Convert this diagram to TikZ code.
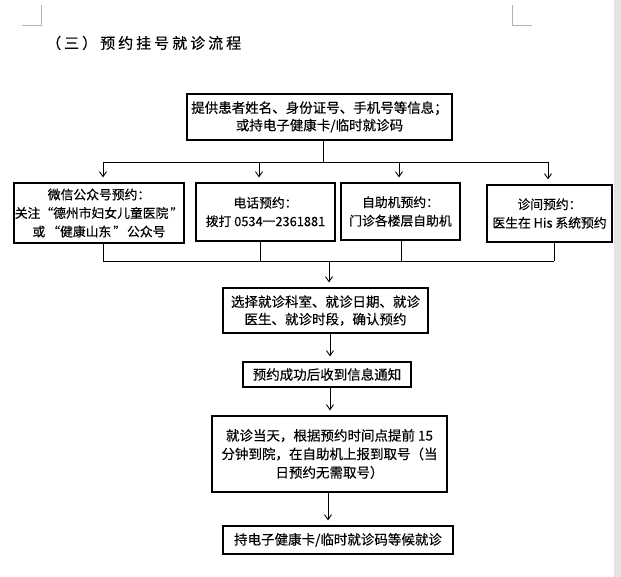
\documentclass[tikz,border=0pt]{standalone}
\usepackage{fontspec}
\setmainfont[FakeBold=0.3]{Noto Sans CJK SC}
\newfontfamily\titlefont[LetterSpace=20,FakeBold=0.3]{Noto Sans CJK SC}
\usetikzlibrary{arrows.meta}
\begin{document}
\begin{tikzpicture}[x=1pt,y=-1pt,
  box/.style={draw,line width=1.2pt,inner sep=0pt,align=center,font=\fontsize{13.5}{17.5}\selectfont},
  rbox/.style={box,font=\fontsize{12.8}{18.5}\selectfont},
  conn/.style={line width=0.9pt},
  arr/.style={conn,-{Straight Barb[length=5pt,width=7pt,line width=0.9pt]},shorten >=5pt},
  crop/.style={line width=0.8pt,draw=black!30}]
\useasboundingbox (0,0) rectangle (621,577);
\fill[white] (0,0) rectangle (621,577);
\fill[black!11] (614,0) rectangle (621,577);
% crop marks
\draw[crop] (41,5) -- (41,25) -- (22,25);
\draw[crop] (512,5) -- (512,25) -- (532,25);
% title
\node[anchor=west,inner sep=0pt,font=\titlefont\fontsize{15}{18}\selectfont] (title) at (46,43) {（三）预约挂号就诊流程};
% boxes
\node[box,minimum width=265pt,minimum height=46pt] (top) at (319.5,117)
  {提供患者姓名、身份证号、手机号等信息；\\或持电子健康卡/临时就诊码};
\node[rbox,minimum width=170pt,minimum height=60pt] (w1) at (99,213)
  {微信公众号预约：\\关注“德州市妇女儿童医院\kern2pt”\\或\kern2pt“健康山东\kern2pt”\kern1pt公众号};
\node[rbox,minimum width=139pt,minimum height=58pt] (w2) at (265.5,212)
  {电话预约：\\拨打 0534一2361881};
\node[rbox,minimum width=119pt,minimum height=57pt] (w3) at (400.5,211.5)
  {自助机预约：\\门诊各楼层自助机};
\node[rbox,minimum width=125pt,minimum height=57pt] (w4) at (549.5,213.5)
  {诊间预约：\\医生在 His 系统预约};
\node[box,minimum width=205pt,minimum height=45pt] (b5) at (325.5,310.5)
  {选择就诊科室、就诊日期、就诊\\医生、就诊时段，确认预约};
\node[box,minimum width=168pt,minimum height=25pt] (b6) at (327,374.5)
  {预约成功后收到信息通知};
\node[box,minimum width=235pt,minimum height=76pt,font=\fontsize{13.5}{18.5}\selectfont] (b7) at (329.5,454)
  {就诊当天，根据预约时间点提前 15\\分钟到院，在自助机上报到取号（当\\日预约无需取号）};
\node[box,minimum width=230pt,minimum height=28pt] (b8) at (338,540)
  {持电子健康卡/临时就诊码等候就诊};
% split from top box
\coordinate (s0) at (323,162);
\coordinate (s1) at (103,162);
\coordinate (s2) at (259,162);
\coordinate (s3) at (399,162);
\coordinate (s4) at (548,162);
\draw[conn] (top.south -| s0) -- (s0);
\draw[conn] (s1) -- (s4);
\draw[arr] (s1) -- (s1 |- w1.north);
\draw[arr] (s2) -- (s2 |- w2.north);
\draw[arr] (s3) -- (s3 |- w3.north);
\draw[arr] (s4) -- (s4 |- w4.north);
% merge
\coordinate (m1) at (103,261);
\coordinate (m2) at (260,261);
\coordinate (m3) at (401,261);
\coordinate (m4) at (554,261);
\coordinate (m0) at (329,261);
\draw[conn] (m1 |- w1.south) -- (m1);
\draw[conn] (m2 |- w2.south) -- (m2);
\draw[conn] (m3 |- w3.south) -- (m3);
\draw[conn] (m4 |- w4.south) -- (m4);
\draw[conn] (m1) -- (m4);
\draw[arr] (m0) -- (m0 |- b5.north);
% chain
\coordinate (c5) at (330,0);
\coordinate (c6) at (330,0);
\coordinate (c7) at (328,0);
\draw[arr] (b5.south -| c5) -- (c5 |- b6.north);
\draw[arr] (b6.south -| c6) -- (c6 |- b7.north);
\draw[arr] (b7.south -| c7) -- (c7 |- b8.north);
\end{tikzpicture}
\end{document}
